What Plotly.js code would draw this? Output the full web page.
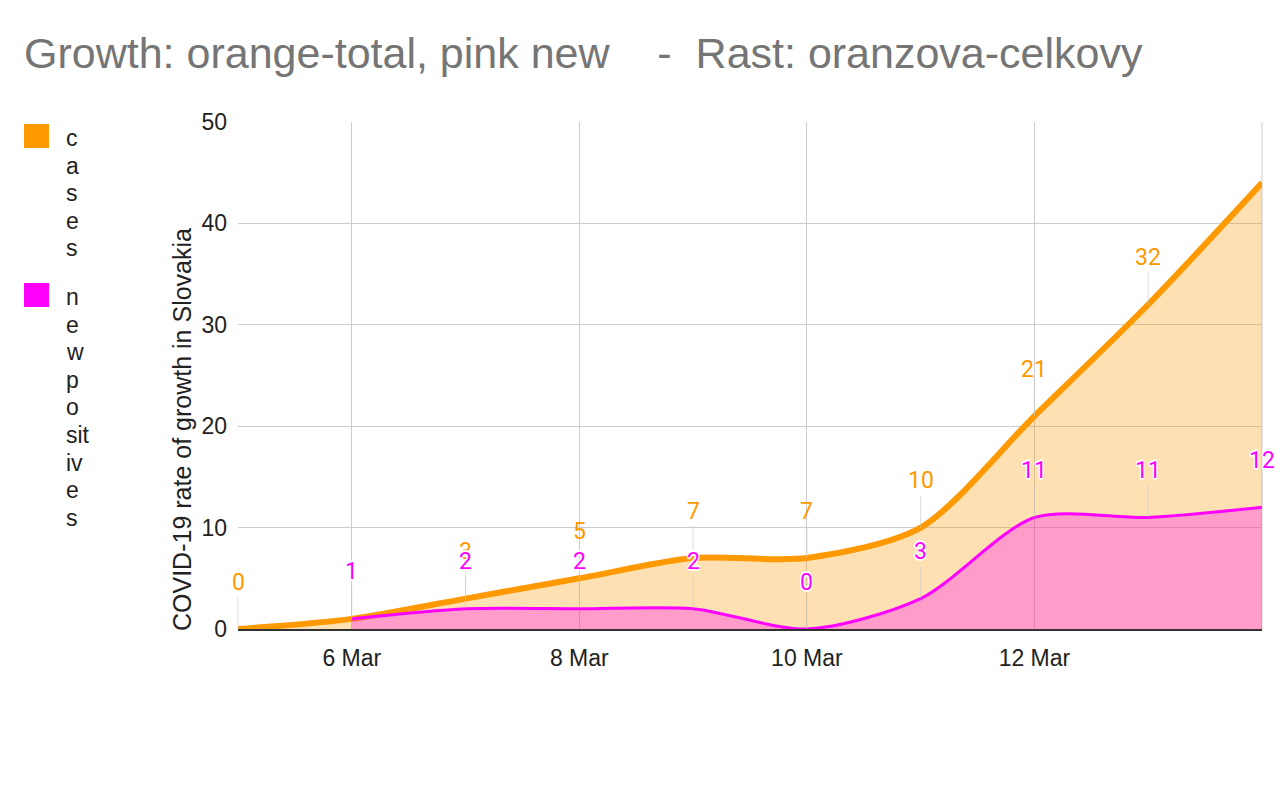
<!DOCTYPE html>
<html>
<head>
<meta charset="utf-8">
<script src="https://cdn.plot.ly/plotly-3.0.1.min.js"></script>
<style>
  html, body { margin: 0; padding: 0; background: #fff; }
  #chart { width: 1280px; height: 791px; }
</style>
</head>
<body>
<div id="chart"></div>
<script>
// values
const dates = ["2020-03-05", "2020-03-06", "2020-03-07", "2020-03-08", "2020-03-09",
               "2020-03-10", "2020-03-11", "2020-03-12", "2020-03-13", "2020-03-14"];
const cases = [0, 1, 3, 5, 7, 7, 10, 21, 32, 44];
const newPositives = [null, 1, 2, 2, 2, 0, 3, 11, 11, 12];
const xTicks = ["2020-03-06", "2020-03-08", "2020-03-10", "2020-03-12"];
const yTicks = [0, 10, 20, 30, 40, 50];
// labels the reference does not show (covered / clipped)
const hiddenCaseLabels = [1, 9];

const legendItems = [
    { name: "cases", chunks: ["c", "a", "s", "e", "s"], color: "#ff9900" },
    { name: "new positives", chunks: ["n", "e", "w", "p", "o", "sit", "iv", "e", "s"], color: "#ff00ff" },
];

const title = "Growth: orange-total, pink new\u00a0\u00a0\u00a0\u00a0-\u00a0\u00a0Rast: oranzova-celkovy";
const yTitle = "COVID-19 rate of growth in Slovakia";

const W = 1280, H = 791;
const margin = { l: 238, r: 18, t: 122, b: 162 };
const plotW = W - margin.l - margin.r;
const plotH = H - margin.t - margin.b;
const px = (x) => (x - margin.l) / plotW;
const py = (y) => 1 - (y - margin.t) / plotH;

const textFont = "Liberation Sans, Arial, sans-serif";
const labelFont = "Roboto, Arial, sans-serif";

function dataLabels(values, color, outline, skip) {
    const out = [];
    values.forEach((v, i) => {
        if (v === null || skip.includes(i)) return;
        out.push({
            x: dates[i], y: v, xref: "x", yref: "y",
            text: String(v),
            showarrow: true, arrowhead: 0, arrowwidth: 1,
            arrowcolor: "rgba(200,200,200,0.6)",
            ax: 0, ay: -47, standoff: 0,
            font: {
                family: labelFont, size: 23, color: color,
                shadow: outline ? "1px 1px 0 #fff, -1px -1px 0 #fff, 1px -1px 0 #fff, -1px 1px 0 #fff, 0 2px 1px #fff, 0 -2px 1px #fff" : "none",
            },
        });
    });
    return out;
}

function legendParts() {
    const out = [];
    const shapes = [];
    let y = 136;
    for (const item of legendItems) {
        shapes.push({
            type: "rect", xref: "paper", yref: "paper",
            x0: px(24), x1: px(49),
            y0: py(y - 12), y1: py(y + 12),
            fillcolor: item.color, line: { width: 0 },
        });
        item.chunks.forEach((c, k) => {
            out.push({
                xref: "paper", yref: "paper",
                x: px(64), y: py(y + 2 + k * 27.6),
                xanchor: "left", yanchor: "middle",
                text: c, showarrow: false,
                font: { family: textFont, size: 23, color: "#222" },
            });
        });
        y += item.chunks.length * 27.6 + 21;
    }
    return { annotations: out, shapes: shapes };
}

const traces = [
    {
        x: dates, y: cases, name: "cases",
        type: "scatter", mode: "lines",
        line: { color: "#ff9900", width: 6, shape: "spline", smoothing: 0.8 },
        fill: "tozeroy", fillcolor: "rgba(255,153,0,0.3)",
    },
    {
        x: dates, y: newPositives, name: "new positives",
        type: "scatter", mode: "lines",
        line: { color: "#ff00ff", width: 3, shape: "spline", smoothing: 0.8 },
        fill: "tozeroy", fillcolor: "rgba(255,0,255,0.3)",
        connectgaps: false,
    },
];

const legend = legendParts();

const annotations = [
    ...dataLabels(cases, "#ff9900", false, hiddenCaseLabels),
    ...dataLabels(newPositives, "#ff00ff", true, []),
    ...legend.annotations,
    {
        xref: "paper", yref: "paper",
        x: px(182), y: py(430),
        xanchor: "center", yanchor: "middle",
        text: yTitle, textangle: -90, showarrow: false,
        font: { family: textFont, size: 25, color: "#222" },
    },
];

const layout = {
    width: W, height: H,
    margin: margin,
    paper_bgcolor: "#fff", plot_bgcolor: "#fff",
    showlegend: false,
    title: {
        text: title,
        xref: "container", yref: "container",
        x: 24 / W, xanchor: "left",
        y: 1 - 53 / H, yanchor: "middle",
        font: { family: textFont, size: 43, color: "#757575" },
    },
    xaxis: {
        type: "date",
        range: [dates[0], dates[dates.length - 1]],
        tickvals: xTicks,
        tickformat: "%-d %b",
        showgrid: true, gridcolor: "#cccccc", gridwidth: 1,
        showline: true, linecolor: "#333333", linewidth: 1.5,
        zeroline: false, ticks: "",
        tickfont: { family: textFont, size: 23, color: "#222" },
        ticklabelstandoff: 8,
    },
    yaxis: {
        range: [0, 50],
        tickvals: yTicks,
        showgrid: true, gridcolor: "#cccccc", gridwidth: 1,
        zeroline: false, showline: false, ticks: "",
        tickfont: { family: textFont, size: 23, color: "#222" },
        ticklabelstandoff: 10,
    },
    annotations: annotations,
    shapes: [
        ...legend.shapes,
        {
            type: "line", xref: "paper", yref: "paper",
            x0: 1, x1: 1, y0: 0, y1: 1,
            line: { color: "#cccccc", width: 1 }, layer: "below",
        },
    ],
};

Plotly.newPlot("chart", traces, layout, { displayModeBar: false, staticPlot: true });
</script>
</body>
</html>
